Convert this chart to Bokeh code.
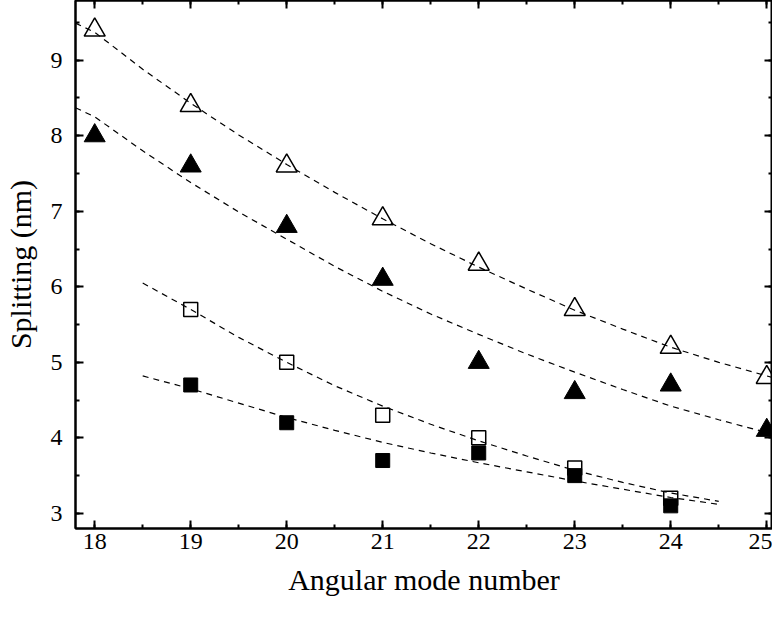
from bokeh.plotting import figure
from bokeh.models import LinearAxis, SingleIntervalTicker, Range1d, CustomLabelingPolicy
from bokeh.embed import file_html
from bokeh.resources import INLINE

# Measured data
modes_tri = [18, 19, 20, 21, 22, 23, 24, 25]
open_tri = [9.4, 8.4, 7.6, 6.9, 6.3, 5.7, 5.2, 4.8]
filled_tri = [8.0, 7.6, 6.8, 6.1, 5.0, 4.6, 4.7, 4.1]
modes_sq = [19, 20, 21, 22, 23, 24]
open_sq = [5.7, 5.0, 4.3, 4.0, 3.6, 3.2]
filled_sq = [4.7, 4.2, 3.7, 3.8, 3.5, 3.1]

# Fit curves
fit_x_tri = [17.8, 18, 18.5, 19, 19.5, 20, 20.5, 21, 21.5, 22, 22.5, 23, 23.5, 24, 24.5, 25, 25.06]
fit_open_tri = [9.49, 9.37, 8.88, 8.43, 8.01, 7.62, 7.25, 6.90, 6.57, 6.26, 5.97, 5.69, 5.44, 5.20, 5.00, 4.82, 4.80]
fit_filled_tri = [8.37, 8.25, 7.80, 7.38, 6.99, 6.63, 6.27, 5.94, 5.64, 5.37, 5.11, 4.87, 4.64, 4.42, 4.24, 4.07, 4.05]
fit_x_sq = [18.5, 19, 19.5, 20, 20.5, 21, 21.5, 22, 22.5, 23, 23.5, 24, 24.5]
fit_open_sq = [6.05, 5.70, 5.33, 5.00, 4.69, 4.42, 4.18, 3.96, 3.76, 3.57, 3.41, 3.27, 3.16]
fit_filled_sq = [4.82, 4.65, 4.46, 4.27, 4.10, 3.94, 3.80, 3.67, 3.55, 3.43, 3.32, 3.21, 3.12]

FONT = "Liberation Serif, DejaVu Serif"

p = figure(width=772, height=614,
           x_range=Range1d(17.8, 25.06), y_range=Range1d(2.8, 9.79),
           output_backend="svg", toolbar_location=None,
           min_border_left=70, min_border_right=0, min_border_top=0, min_border_bottom=86)
p.grid.visible = False
p.outline_line_color = "black"
p.outline_line_width = 2
p.background_fill_color = "white"
p.border_fill_color = "white"

hide_all = CustomLabelingPolicy(code="""
for (const i of indices)
    indices.unset(i)
return indices
""")


def style_axis(ax, labels=True):
    ax.axis_line_width = 2
    ax.axis_line_color = "black"
    ax.major_tick_in = 8
    ax.major_tick_out = 0
    ax.minor_tick_in = 4
    ax.minor_tick_out = 0
    ax.major_tick_line_width = 2
    ax.minor_tick_line_width = 2
    ax.major_tick_line_color = "black"
    ax.minor_tick_line_color = "black"
    if labels:
        ax.major_label_text_font = FONT
        ax.major_label_text_font_size = "24px"
        ax.major_label_text_color = "black"
        ax.axis_label_text_font = FONT
        ax.axis_label_text_font_size = "30px"
        ax.axis_label_text_font_style = "normal"
        ax.axis_label_text_color = "black"
    else:
        ax.major_label_policy = hide_all
        ax.major_label_text_font_size = "0px"
        ax.major_label_standoff = 0
        ax.axis_label_standoff = 0


p.xaxis.ticker = SingleIntervalTicker(interval=1, num_minor_ticks=2)
p.yaxis.ticker = SingleIntervalTicker(interval=1, num_minor_ticks=2)
p.xaxis.axis_label = "Angular mode number"
p.yaxis.axis_label = "Splitting (nm)"
for ax in p.xaxis:
    style_axis(ax)
    ax.major_label_standoff = 5
    ax.axis_label_standoff = 11
for ax in p.yaxis:
    style_axis(ax)
    ax.major_label_standoff = 13
    ax.axis_label_standoff = 11

top = LinearAxis(ticker=SingleIntervalTicker(interval=1, num_minor_ticks=2))
style_axis(top, labels=False)
p.add_layout(top, "above")
right = LinearAxis(ticker=SingleIntervalTicker(interval=1, num_minor_ticks=2))
style_axis(right, labels=False)
p.add_layout(right, "right")

# Markers
p.scatter(modes_tri, open_tri, marker="triangle", size=21, fill_color="white",
          fill_alpha=0, line_color="black", line_width=1.5)
p.scatter(modes_tri, filled_tri, marker="triangle", size=21, fill_color="black",
          line_color="black", line_width=1)
p.scatter(modes_sq, open_sq, marker="square", size=14, fill_color="white",
          fill_alpha=0, line_color="black", line_width=1.5)
p.scatter(modes_sq, filled_sq, marker="square", size=14, fill_color="black",
          line_color="black", line_width=1)

# Fit lines
for xs, ys in [(fit_x_tri, fit_open_tri), (fit_x_tri, fit_filled_tri),
               (fit_x_sq, fit_open_sq), (fit_x_sq, fit_filled_sq)]:
    p.line(xs, ys, line_color="black", line_width=1.2, line_dash="6 5")

open("out.html", "w").write(file_html(p, INLINE))
